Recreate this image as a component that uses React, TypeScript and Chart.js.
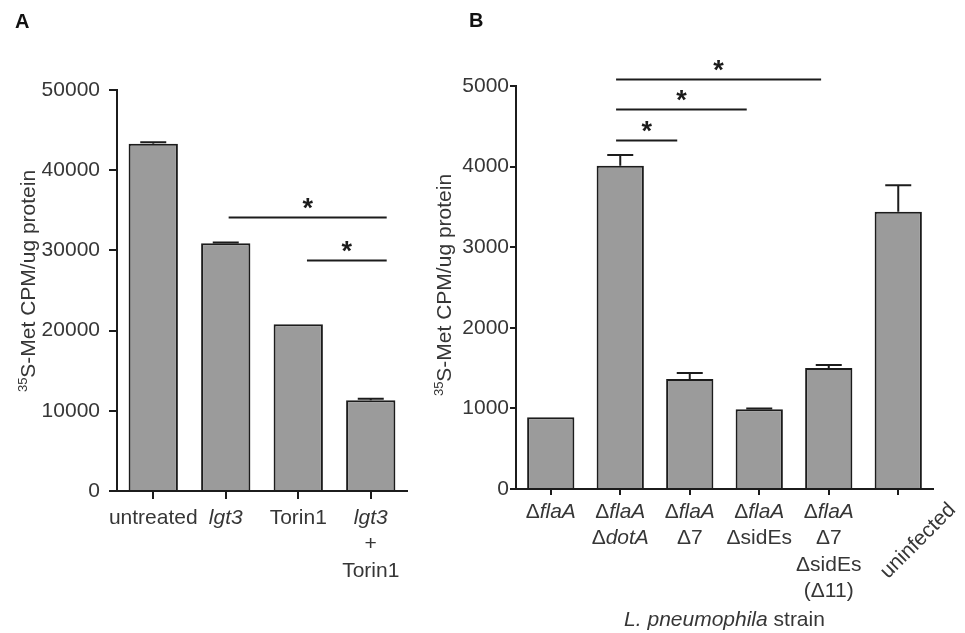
import React, { useEffect, useRef } from 'react';
import { Chart, registerables } from 'chart.js';

Chart.register(...registerables);

const FONT = '"Liberation Sans", Arial, Helvetica, sans-serif';
const TEXT = '#363636';
const INK = '#1c1c1c';

// ---------- Panel A data ----------
const categoriesA = ['untreated', '*lgt3*', 'Torin1', '*lgt3*\n+\nTorin1'];
const valuesA = [43300, 30900, 20800, 11300];
const errorsA = [200, 100, 0, 200];
const yTicksA = [0, 10000, 20000, 30000, 40000, 50000];
const sigFromA = [1.04, 2.12];
const sigToA = [3.22, 3.22];
const sigLevelA = [34200, 28800];

// ---------- Panel B data ----------
const categoriesB = [
  'Δ*flaA*',
  'Δ*flaA*\nΔ*dotA*',
  'Δ*flaA*\nΔ7',
  'Δ*flaA*\nΔsidEs',
  'Δ*flaA*\nΔ7\nΔsidEs\n(Δ11)',
  'uninfected',
];
const valuesB = [890, 4010, 1365, 990, 1500, 3440];
const errorsB = [0, 135, 75, 8, 37, 330];
const yTicksB = [0, 1000, 2000, 3000, 4000, 5000];
const sigFromB = [0.94, 0.94, 0.94];
const sigToB = [1.82, 2.82, 3.89];
const sigLevelB = [4330, 4710, 5090];
const rotatedB = [false, false, false, false, false, true];

const yTitleSup = '35';
const yTitleMain = 'S-Met CPM/ug protein';
const xTitleB = '*L. pneumophila* strain';

type PanelCfg = {
  letter: string;
  left: number;
  width: number;
  cats: string[];
  values: number[];
  errors: number[];
  yTicks: number[];
  sigFrom: number[];
  sigTo: number[];
  sigLevel: number[];
  rotated?: boolean[];
  xTitle?: string;
  area: { left: number; top: number; right: number; bottom: number };
  yTickLen: number;
  yTickPad: number;
  xTickLen: number;
  labelOffset: number;
  yTitleX: number;
  yTitleCY: number;
  letterX: number;
  letterY: number;
};

function drawRich(ctx: CanvasRenderingContext2D, text: string, x: number, y: number, size: number) {
  const parts = text.split('*');
  const widths: number[] = [];
  let total = 0;
  parts.forEach((p, i) => {
    ctx.font = `${i % 2 ? 'italic ' : ''}${size}px ${FONT}`;
    const w = ctx.measureText(p).width;
    widths.push(w);
    total += w;
  });
  let cx = x - total / 2;
  ctx.textAlign = 'left';
  parts.forEach((p, i) => {
    ctx.font = `${i % 2 ? 'italic ' : ''}${size}px ${FONT}`;
    ctx.fillText(p, cx, y);
    cx += widths[i];
  });
}

function Panel({ cfg }: { cfg: PanelCfg }) {
  const ref = useRef<HTMLCanvasElement | null>(null);
  useEffect(() => {
    if (!ref.current) return;
    const H = 633;
    const overlay = {
      id: 'overlay',
      afterDatasetsDraw(chart: any) {
        const ctx: CanvasRenderingContext2D = chart.ctx;
        const xs = chart.scales.x;
        const ys = chart.scales.y;
        const meta = chart.getDatasetMeta(0);
        const ca = chart.chartArea;
        ctx.save();
        // error bars (upper only)
        ctx.strokeStyle = INK;
        ctx.lineWidth = 2;
        cfg.values.forEach((v, i) => {
          const e = cfg.errors[i];
          if (!e) return;
          const el = meta.data[i];
          const x = el.x;
          const yb = ys.getPixelForValue(v);
          const yt = ys.getPixelForValue(v + e);
          ctx.beginPath();
          ctx.moveTo(x, yb);
          ctx.lineTo(x, yt);
          ctx.moveTo(x - 13, yt);
          ctx.lineTo(x + 13, yt);
          ctx.stroke();
        });
        // significance lines
        cfg.sigLevel.forEach((lv, i) => {
          const x1 = xs.getPixelForValue(cfg.sigFrom[i]);
          const x2 = xs.getPixelForValue(cfg.sigTo[i]);
          const y = Math.round(ys.getPixelForValue(lv)) + 0.5;
          ctx.beginPath();
          ctx.moveTo(x1, y);
          ctx.lineTo(x2, y);
          ctx.stroke();
          ctx.fillStyle = INK;
          ctx.font = `bold 27px ${FONT}`;
          ctx.textAlign = 'center';
          ctx.textBaseline = 'alphabetic';
          ctx.fillText('*', (x1 + x2) / 2, y - 1);
        });
        // x labels
        ctx.fillStyle = TEXT;
        ctx.textBaseline = 'middle';
        cfg.cats.forEach((lab, i) => {
          const x = xs.getPixelForTick(i);
          if (cfg.rotated && cfg.rotated[i]) {
            ctx.save();
            ctx.translate(x + 20, ca.bottom + 52);
            ctx.rotate(-Math.PI / 4);
            drawRich(ctx, lab, 0, 0, 21);
            ctx.restore();
            return;
          }
          lab.split('\n').forEach((line, k) => {
            drawRich(ctx, line, x, ca.bottom + cfg.labelOffset + k * 26.5, 21);
          });
        });
        // x title
        if (cfg.xTitle) {
          drawRich(ctx, cfg.xTitle, (ca.left + ca.right) / 2, ca.bottom + 131, 21);
        }
        // y title with superscript
        ctx.save();
        ctx.translate(cfg.yTitleX, cfg.yTitleCY);
        ctx.rotate(-Math.PI / 2);
        ctx.textBaseline = 'alphabetic';
        ctx.textAlign = 'left';
        ctx.font = `13px ${FONT}`;
        const wSup = ctx.measureText(yTitleSup).width;
        ctx.font = `21px ${FONT}`;
        const wMain = ctx.measureText(yTitleMain).width;
        const start = -(wSup + wMain) / 2;
        ctx.font = `13px ${FONT}`;
        ctx.fillText(yTitleSup, start, -8);
        ctx.font = `21px ${FONT}`;
        ctx.fillText(yTitleMain, start + wSup, 0);
        ctx.restore();
        // panel letter
        ctx.fillStyle = '#111';
        ctx.font = `bold 20px ${FONT}`;
        ctx.textAlign = 'left';
        ctx.textBaseline = 'middle';
        ctx.fillText(cfg.letter, cfg.letterX, cfg.letterY);
        ctx.restore();
      },
    };

    const chart = new Chart(ref.current, {
      type: 'bar',
      data: {
        labels: cfg.cats,
        datasets: [
          {
            data: cfg.values,
            backgroundColor: '#9b9b9b',
            borderColor: INK,
            borderWidth: 2,
            barPercentage: 0.68,
            categoryPercentage: 1,
          },
        ],
      },
      options: {
        responsive: false,
        animation: false,
        devicePixelRatio: 1,
        layout: {
          padding: {
            left: 0,
            top: cfg.area.top,
            right: cfg.width - cfg.area.right,
            bottom: 0,
          },
        },
        plugins: { legend: { display: false }, tooltip: { enabled: false } },
        scales: {
          x: {
            offset: true,
            grid: {
              display: true,
              offset: false,
              drawOnChartArea: false,
              drawTicks: true,
              tickLength: cfg.xTickLen,
              color: INK,
              lineWidth: 2,
            },
            border: { display: true, color: INK, width: 2 },
            ticks: { display: false },
            afterFit: (s: any) => {
              s.height = H - cfg.area.bottom;
            },
          },
          y: {
            min: 0,
            max: cfg.yTicks[cfg.yTicks.length - 1],
            grid: {
              display: true,
              drawOnChartArea: false,
              drawTicks: true,
              tickLength: cfg.yTickLen,
              color: INK,
              lineWidth: 2,
            },
            border: { display: true, color: INK, width: 2 },
            ticks: {
              color: TEXT,
              padding: cfg.yTickPad,
              font: { family: FONT, size: 21 },
              callback: (v: any) => String(v),
            },
            afterBuildTicks: (s: any) => {
              s.ticks = cfg.yTicks.map((v) => ({ value: v }));
            },
            afterFit: (s: any) => {
              s.width = cfg.area.left;
            },
          },
        },
      },
      plugins: [overlay],
    } as any);
    return () => chart.destroy();
  }, [cfg]);
  return (
    <div style={{ position: 'absolute', left: cfg.left, top: 0, width: cfg.width, height: 633 }}>
      <canvas ref={ref} width={cfg.width} height={633} style={{ display: 'block' }} />
    </div>
  );
}

const panelA: PanelCfg = {
  letter: 'A',
  left: 0,
  width: 420,
  cats: categoriesA,
  values: valuesA,
  errors: errorsA,
  yTicks: yTicksA,
  sigFrom: sigFromA,
  sigTo: sigToA,
  sigLevel: sigLevelA,
  area: { left: 117, top: 90, right: 407, bottom: 491 },
  yTickLen: 8,
  yTickPad: 9,
  xTickLen: 8,
  labelOffset: 27,
  yTitleX: 35,
  yTitleCY: 281,
  letterX: 15,
  letterY: 22,
};

const panelB: PanelCfg = {
  letter: 'B',
  left: 420,
  width: 545,
  cats: categoriesB,
  values: valuesB,
  errors: errorsB,
  yTicks: yTicksB,
  sigFrom: sigFromB,
  sigTo: sigToB,
  sigLevel: sigLevelB,
  rotated: rotatedB,
  xTitle: xTitleB,
  area: { left: 96, top: 86, right: 513, bottom: 489 },
  yTickLen: 6,
  yTickPad: 1,
  xTickLen: 6,
  labelOffset: 23,
  yTitleX: 31,
  yTitleCY: 285,
  letterX: 49,
  letterY: 21,
};

export default function App() {
  return (
    <div style={{ position: 'absolute', left: 0, top: 0, width: 965, height: 633, background: '#fff' }}>
      <Panel cfg={panelA} />
      <Panel cfg={panelB} />
    </div>
  );
}
